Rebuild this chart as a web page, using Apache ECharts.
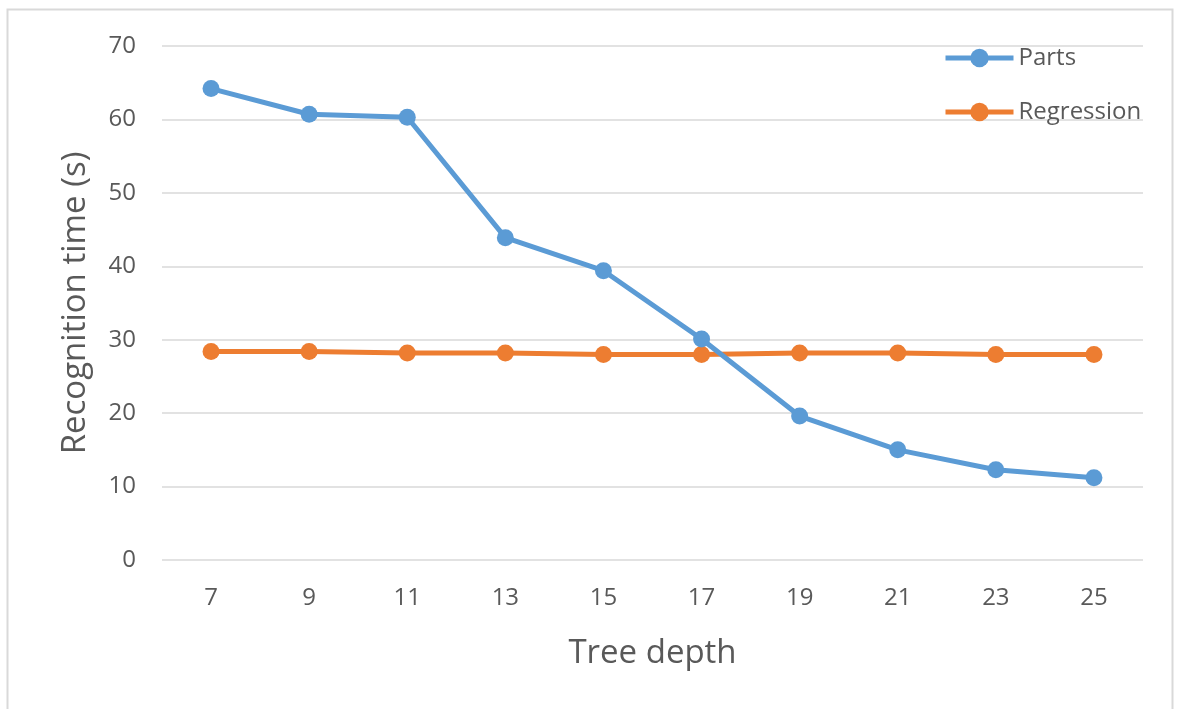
<!DOCTYPE html>
<html>
<head>
<meta charset="utf-8">
<script src="https://cdn.jsdelivr.net/npm/echarts@6/dist/echarts.min.js"></script>
<style>
html,body{margin:0;padding:0;background:#fff;}
#c{width:1177px;height:709px;}
</style>
</head>
<body>
<div id="c"></div>
<script>
const categories = ['7','9','11','13','15','17','19','21','23','25'];
const partsValues = [64.2, 60.7, 60.3, 43.9, 39.4, 30.1, 19.6, 15.0, 12.3, 11.2];
const regressionValues = [28.4, 28.4, 28.2, 28.2, 28.0, 28.0, 28.2, 28.2, 28.0, 28.0];
const seriesNames = ['Parts', 'Regression'];

const FONT = '"Open Sans", "Noto Sans", sans-serif';
const chart = echarts.init(document.getElementById('c'), null, {renderer: 'canvas'});
chart.setOption({
  backgroundColor: '#fff',
  animation: false,
  textStyle: {fontFamily: FONT},
  graphic: [{
    type: 'rect',
    shape: {x: 7.5, y: 9.5, width: 1165, height: 710},
    style: {fill: 'none', stroke: '#d9d9d9', lineWidth: 2},
    silent: true
  }],
  grid: {left: 162, right: 34, top: 46, bottom: 149, containLabel: false},
  legend: {
    orient: 'vertical',
    left: 938,
    top: 41,
    itemWidth: 68,
    itemHeight: 23,
    itemGap: 30,
    lineStyle: {width: 5},
    textStyle: {fontFamily: FONT, fontSize: 24, color: '#595959'},
    data: seriesNames
  },
  xAxis: {
    type: 'category',
    data: categories,
    boundaryGap: true,
    name: 'Tree depth',
    nameLocation: 'middle',
    nameGap: 77,
    nameTextStyle: {fontFamily: FONT, fontSize: 33, color: '#595959'},
    axisLine: {show: false},
    axisTick: {show: false},
    axisLabel: {fontFamily: FONT, fontSize: 24, color: '#595959', margin: 26}
  },
  yAxis: {
    type: 'value',
    min: 0, max: 70, interval: 10,
    name: 'Recognition time (s)',
    nameLocation: 'middle',
    nameGap: 70,
    nameTextStyle: {fontFamily: FONT, fontSize: 33, color: '#595959'},
    axisLine: {show: false},
    axisTick: {show: false},
    axisLabel: {fontFamily: FONT, fontSize: 24, color: '#595959', margin: 26},
    splitLine: {lineStyle: {color: '#d9d9d9', width: 1.5}}
  },
  series: [
    {
      name: seriesNames[0], type: 'line', data: partsValues,
      symbol: 'circle', symbolSize: 17,
      lineStyle: {color: '#5B9BD5', width: 5},
      itemStyle: {color: '#5B9BD5'},
      z: 3
    },
    {
      name: seriesNames[1], type: 'line', data: regressionValues,
      symbol: 'circle', symbolSize: 17,
      lineStyle: {color: '#ED7D31', width: 5},
      itemStyle: {color: '#ED7D31'},
      z: 2
    }
  ]
});
</script>
</body>
</html>
